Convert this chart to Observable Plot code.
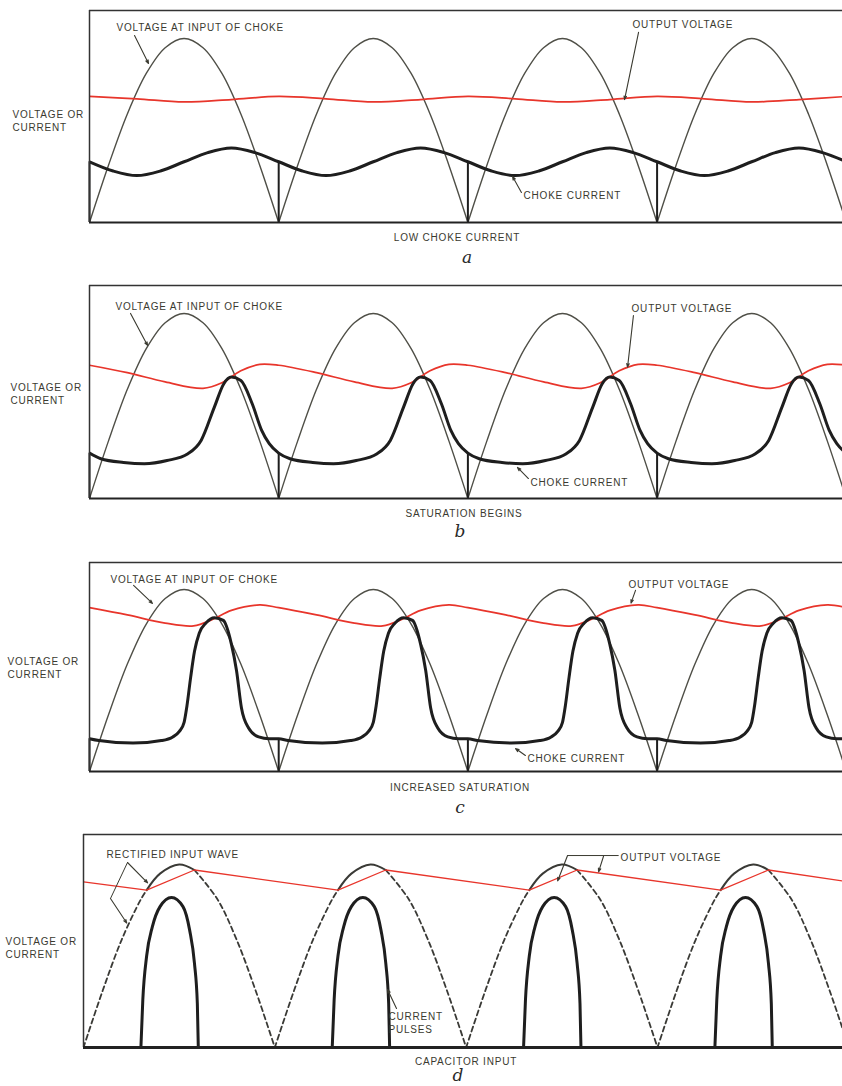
<!DOCTYPE html>
<html><head><meta charset="utf-8">
<script src="https://cdn.jsdelivr.net/npm/d3@7"></script>
<script src="https://cdn.jsdelivr.net/npm/@observablehq/plot@0.6"></script>
<style>
html,body{margin:0;padding:0;background:#fff;overflow:hidden;width:842px;height:1086px}
#wrap{position:relative;width:842px;height:1086px}
.cap{position:absolute;font-family:"Liberation Sans",sans-serif;font-size:10px;letter-spacing:0.8px;color:#3a3a30;transform:translate(-50%,-50%);white-space:nowrap}
.let{position:absolute;font-family:"DejaVu Serif",serif;font-style:italic;font-size:17px;color:#2a2a2a;transform:translate(-50%,-50%)}
</style></head>
<body><div id="wrap"></div>
<script>
// ---------- data (x in half-cycles of the rectified wave, y relative to arch peak) ----------
const halfCycles = [0, 1, 2, 3];
const archPhase = [0, 0.1, 0.2, 0.3, 0.4, 0.5, 0.6, 0.7, 0.8, 0.9, 1.0];
const archValue = [0, 0.31, 0.59, 0.81, 0.95, 1.0, 0.95, 0.81, 0.59, 0.31, 0];

// a: low choke current
const aCurrentPhase = [0, 0.125, 0.25, 0.375, 0.5, 0.625, 0.75, 0.875];
const aCurrentValue = [0.33, 0.28, 0.255, 0.28, 0.33, 0.38, 0.405, 0.38];
const aOutputPhase = [0, 0.25, 0.5, 0.75];
const aOutputValue = [0.685, 0.672, 0.655, 0.668];

// b: saturation begins
const bCurrentPhase = [0, 0.06, 0.18, 0.29, 0.41, 0.52, 0.59, 0.66, 0.71, 0.75, 0.80, 0.86, 0.91, 0.95];
const bCurrentValue = [0.245, 0.215, 0.195, 0.188, 0.205, 0.242, 0.314, 0.494, 0.62, 0.656, 0.638, 0.512, 0.368, 0.296];
const bOutputPhase = [0, 0.2, 0.4, 0.6, 0.7, 0.8, 0.9];
const bOutputValue = [0.72, 0.68, 0.63, 0.595, 0.625, 0.69, 0.725];

// c: increased saturation
const cCurrentPhase = [0, 0.05, 0.23, 0.38, 0.44, 0.475, 0.5, 0.515, 0.535, 0.555, 0.58, 0.615, 0.66, 0.707, 0.75, 0.777, 0.803, 0.84, 0.894, 0.95];
const cCurrentValue = [0.18, 0.17, 0.156, 0.17, 0.19, 0.22, 0.27, 0.36, 0.52, 0.66, 0.76, 0.815, 0.845, 0.83, 0.7, 0.555, 0.35, 0.24, 0.19, 0.18];
const cOutputPhase = [0, 0.2, 0.4, 0.55, 0.65, 0.75, 0.9];
const cOutputValue = [0.9, 0.86, 0.815, 0.8, 0.835, 0.885, 0.915];

// d: capacitor input
const dArchPhase = [0, 0.1, 0.2, 0.3, 0.33, 0.4, 0.5, 0.58, 0.7, 0.8, 0.9, 1.0];
const dArchValue = [0, 0.31, 0.59, 0.81, 0.86, 0.95, 1.0, 0.97, 0.81, 0.59, 0.31, 0];
const dConductStart = 0.33, dConductEnd = 0.58;
const dOutputX = [0, 0.33, 0.58, 1.33, 1.58, 2.33, 2.58, 3.33, 3.58, 3.97];
const dOutputValue = [0.905, 0.86, 0.97, 0.86, 0.97, 0.86, 0.97, 0.86, 0.97, 0.91];
const dPulsePhase = [0.30, 0.31, 0.33, 0.36, 0.40, 0.46, 0.52, 0.555, 0.58, 0.595, 0.60];
const dPulseValue = [0, 0.26, 0.5, 0.66, 0.77, 0.82, 0.77, 0.64, 0.46, 0.24, 0];

// ---------- helpers ----------
const wrap = document.getElementById("wrap");
const INK = "#3a3a30", WAVE = "#4f4f47", RED = "#e8352b", CUR = "#1e1e1e";
const PLOTSTYLE = {background: "transparent", letterSpacing: "0.8px", fontFamily: "Liberation Sans"};

function tile(phases, values) {
  const out = [];
  for (const k of halfCycles) phases.forEach((p, i) => out.push({x: k + p, y: values[i]}));
  out.push({x: halfCycles.length, y: values[0]});
  return out;
}
function arches(phases, values, segFn = () => [0]) {
  const out = [];
  for (const k of halfCycles) phases.forEach((p, i) => {
    for (const s of segFn(p)) out.push({x: k + p, y: values[i], z: k + "-" + s, s});
  });
  return out;
}
function place(svg, top) {
  svg.style.position = "absolute"; svg.style.top = top + "px"; svg.style.left = "0px";
  svg.style.overflow = "visible"; svg.style.background = "transparent";
  wrap.append(svg);
}
function caption(text, x, y, cls) {
  const d = document.createElement("div"); d.className = cls; d.textContent = text;
  d.style.left = x + "px"; d.style.top = y + "px"; wrap.append(d);
}
function notes(texts, arrows, lines = []) {
  return [
    Plot.text(texts, {x: "x", y: "y", text: "t", textAnchor: "start", lineAnchor: "middle", fill: INK,
      lineHeight: 1.3, clip: false, fontSize: 10, fontFamily: "Liberation Sans"}),
    Plot.link(lines, {x1: "x1", y1: "y1", x2: "x2", y2: "y2", stroke: INK, strokeWidth: 1}),
    Plot.arrow(arrows, {x1: "x1", y1: "y1", x2: "x2", y2: "y2", stroke: INK, strokeWidth: 1.1, headLength: 5, headAngle: 40})
  ];
}
function frame(ymax, bottomWidth = 2) {
  return [
    Plot.ruleY([ymax], {stroke: "#333", strokeWidth: 1.6}),
    Plot.ruleX([0], {stroke: "#333", strokeWidth: 1.5}),
    Plot.ruleY([0], {stroke: "#222", strokeWidth: bottomWidth})
  ];
}
function chokePanel({top, frameTop, frameBottom, ymax, curP, curV, outP, outV, texts, arrows, curve}) {
  const mt = frameTop - top, height = frameBottom - top + 6;
  const cur = tile(curP, curV);
  const svg = Plot.plot({
    width: 842, height, marginTop: mt, marginBottom: height - (frameBottom - top), marginLeft: 89, marginRight: 0,
    x: {domain: [0, 3.98], axis: null}, y: {domain: [0, ymax], axis: null},
    style: PLOTSTYLE,
    marks: [
      Plot.line(arches(archPhase, archValue), {x: "x", y: "y", z: "z", curve: "catmull-rom", stroke: WAVE, strokeWidth: 1.4, clip: true}),
      Plot.line(tile(outP, outV), {x: "x", y: "y", curve: "catmull-rom", stroke: RED, strokeWidth: 1.7, clip: true}),
      Plot.ruleX(halfCycles, {x: d => d, y1: 0, y2: curV[0], stroke: CUR, strokeWidth: 2}),
      Plot.line(cur, {x: "x", y: "y", curve, stroke: CUR, strokeWidth: 3, clip: true}),
      ...frame(ymax),
      ...notes(texts, arrows)
    ]
  });
  place(svg, top);
}

// ---------- panel a ----------
chokePanel({top: 0, frameTop: 10, frameBottom: 222, ymax: 1.152, curve: "catmull-rom",
  curP: aCurrentPhase, curV: aCurrentValue, outP: aOutputPhase, outV: aOutputValue,
  texts: [
    {x: 0.143, y: 1.065, t: "VOLTAGE AT INPUT OF CHOKE"},
    {x: 2.87, y: 1.082, t: "OUTPUT VOLTAGE"},
    {x: 2.294, y: 0.152, t: "CHOKE CURRENT"},
    {x: -0.407, y: 0.557, t: "VOLTAGE OR\nCURRENT"}],
  arrows: [
    {x1: 0.238, y1: 1.016, x2: 0.312, y2: 0.864},
    {x1: 2.902, y1: 1.033, x2: 2.828, y2: 0.668},
    {x1: 2.283, y1: 0.163, x2: 2.236, y2: 0.25}]
});
caption("LOW CHOKE CURRENT", 457, 237, "cap");
caption("a", 467, 257, "let");

// ---------- panel b ----------
chokePanel({top: 275, frameTop: 285, frameBottom: 498, ymax: 1.151, curve: "monotone-x",
  curP: bCurrentPhase, curV: bCurrentValue, outP: bOutputPhase, outV: bOutputValue,
  texts: [
    {x: 0.137, y: 1.043, t: "VOLTAGE AT INPUT OF CHOKE"},
    {x: 2.865, y: 1.032, t: "OUTPUT VOLTAGE"},
    {x: 2.331, y: 0.092, t: "CHOKE CURRENT"},
    {x: -0.418, y: 0.57, t: "VOLTAGE OR\nCURRENT"}],
  arrows: [
    {x1: 0.217, y1: 1.0, x2: 0.307, y2: 0.827},
    {x1: 2.875, y1: 0.989, x2: 2.844, y2: 0.71},
    {x1: 2.32, y1: 0.108, x2: 2.262, y2: 0.168}]
});
caption("SATURATION BEGINS", 464, 513, "cap");
caption("b", 460, 531, "let");

// ---------- panel c ----------
chokePanel({top: 552, frameTop: 562, frameBottom: 771, ymax: 1.148, curve: "monotone-x",
  curP: cCurrentPhase, curV: cCurrentValue, outP: cOutputPhase, outV: cOutputValue,
  texts: [
    {x: 0.111, y: 1.06, t: "VOLTAGE AT INPUT OF CHOKE"},
    {x: 2.849, y: 1.033, t: "OUTPUT VOLTAGE"},
    {x: 2.315, y: 0.077, t: "CHOKE CURRENT"},
    {x: -0.433, y: 0.57, t: "VOLTAGE OR\nCURRENT"}],
  arrows: [
    {x1: 0.233, y1: 1.022, x2: 0.333, y2: 0.923},
    {x1: 2.886, y1: 0.995, x2: 2.862, y2: 0.925},
    {x1: 2.304, y1: 0.088, x2: 2.252, y2: 0.126}]
});
caption("INCREASED SATURATION", 460, 787, "cap");
caption("c", 460, 807, "let");

// ---------- panel d ----------
(function () {
  const top = 824, frameTop = 834, frameBottom = 1047, ymax = 1.164;
  const mt = frameTop - top, height = frameBottom - top + 6;
  const seg = p => {
    const s = [];
    if (p <= dConductStart) s.push("rise");
    if (p >= dConductStart && p <= dConductEnd) s.push("peak");
    if (p >= dConductEnd) s.push("fall");
    return s;
  };
  const arch = arches(dArchPhase, dArchValue, seg);
  const pulses = [];
  for (const k of halfCycles) dPulsePhase.forEach((p, i) => pulses.push({x: k + p, y: dPulseValue[i], k}));
  const output = dOutputX.map((x, i) => ({x, y: dOutputValue[i]}));
  const svg = Plot.plot({
    width: 842, height, marginTop: mt, marginBottom: height - (frameBottom - top), marginLeft: 83, marginRight: 0,
    x: {domain: [0, 3.967], axis: null}, y: {domain: [0, ymax], axis: null},
    style: PLOTSTYLE,
    marks: [
      Plot.line(arch.filter(d => d.s !== "peak"), {x: "x", y: "y", z: "z", curve: "catmull-rom", stroke: "#3a3a36", strokeWidth: 1.8, strokeDasharray: "5,3.5", clip: true}),
      Plot.line(arch.filter(d => d.s === "peak"), {x: "x", y: "y", z: "z", curve: "catmull-rom", stroke: "#3a3a36", strokeWidth: 2, clip: true}),
      Plot.line(output, {x: "x", y: "y", stroke: RED, strokeWidth: 1.3, clip: true}),
      Plot.line(pulses, {x: "x", y: "y", z: "k", curve: "monotone-x", stroke: CUR, strokeWidth: 3, clip: true}),
      ...frame(ymax, 3.2),
      ...notes([
        {x: 0.12, y: 1.06, t: "RECTIFIED INPUT WAVE"},
        {x: 2.807, y: 1.044, t: "OUTPUT VOLTAGE"},
        {x: 1.594, y: 0.139, t: "CURRENT\nPULSES"},
        {x: -0.408, y: 0.55, t: "VOLTAGE OR\nCURRENT"}],
      [
        {x1: 0.23, y1: 1.011, x2: 0.335, y2: 0.9},
        {x1: 0.141, y1: 0.814, x2: 0.226, y2: 0.68},
        {x1: 2.53, y1: 1.049, x2: 2.478, y2: 0.91},
        {x1: 2.718, y1: 1.045, x2: 2.692, y2: 0.96},
        {x1: 1.636, y1: 0.213, x2: 1.589, y2: 0.317}],
      [
        {x1: 0.23, y1: 1.011, x2: 0.141, y2: 0.814},
        {x1: 2.53, y1: 1.049, x2: 2.797, y2: 1.049}])
    ]
  });
  place(svg, top);
})();
caption("CAPACITOR INPUT", 466, 1061, "cap");
caption("d", 458, 1075, "let");
</script>
</body></html>
